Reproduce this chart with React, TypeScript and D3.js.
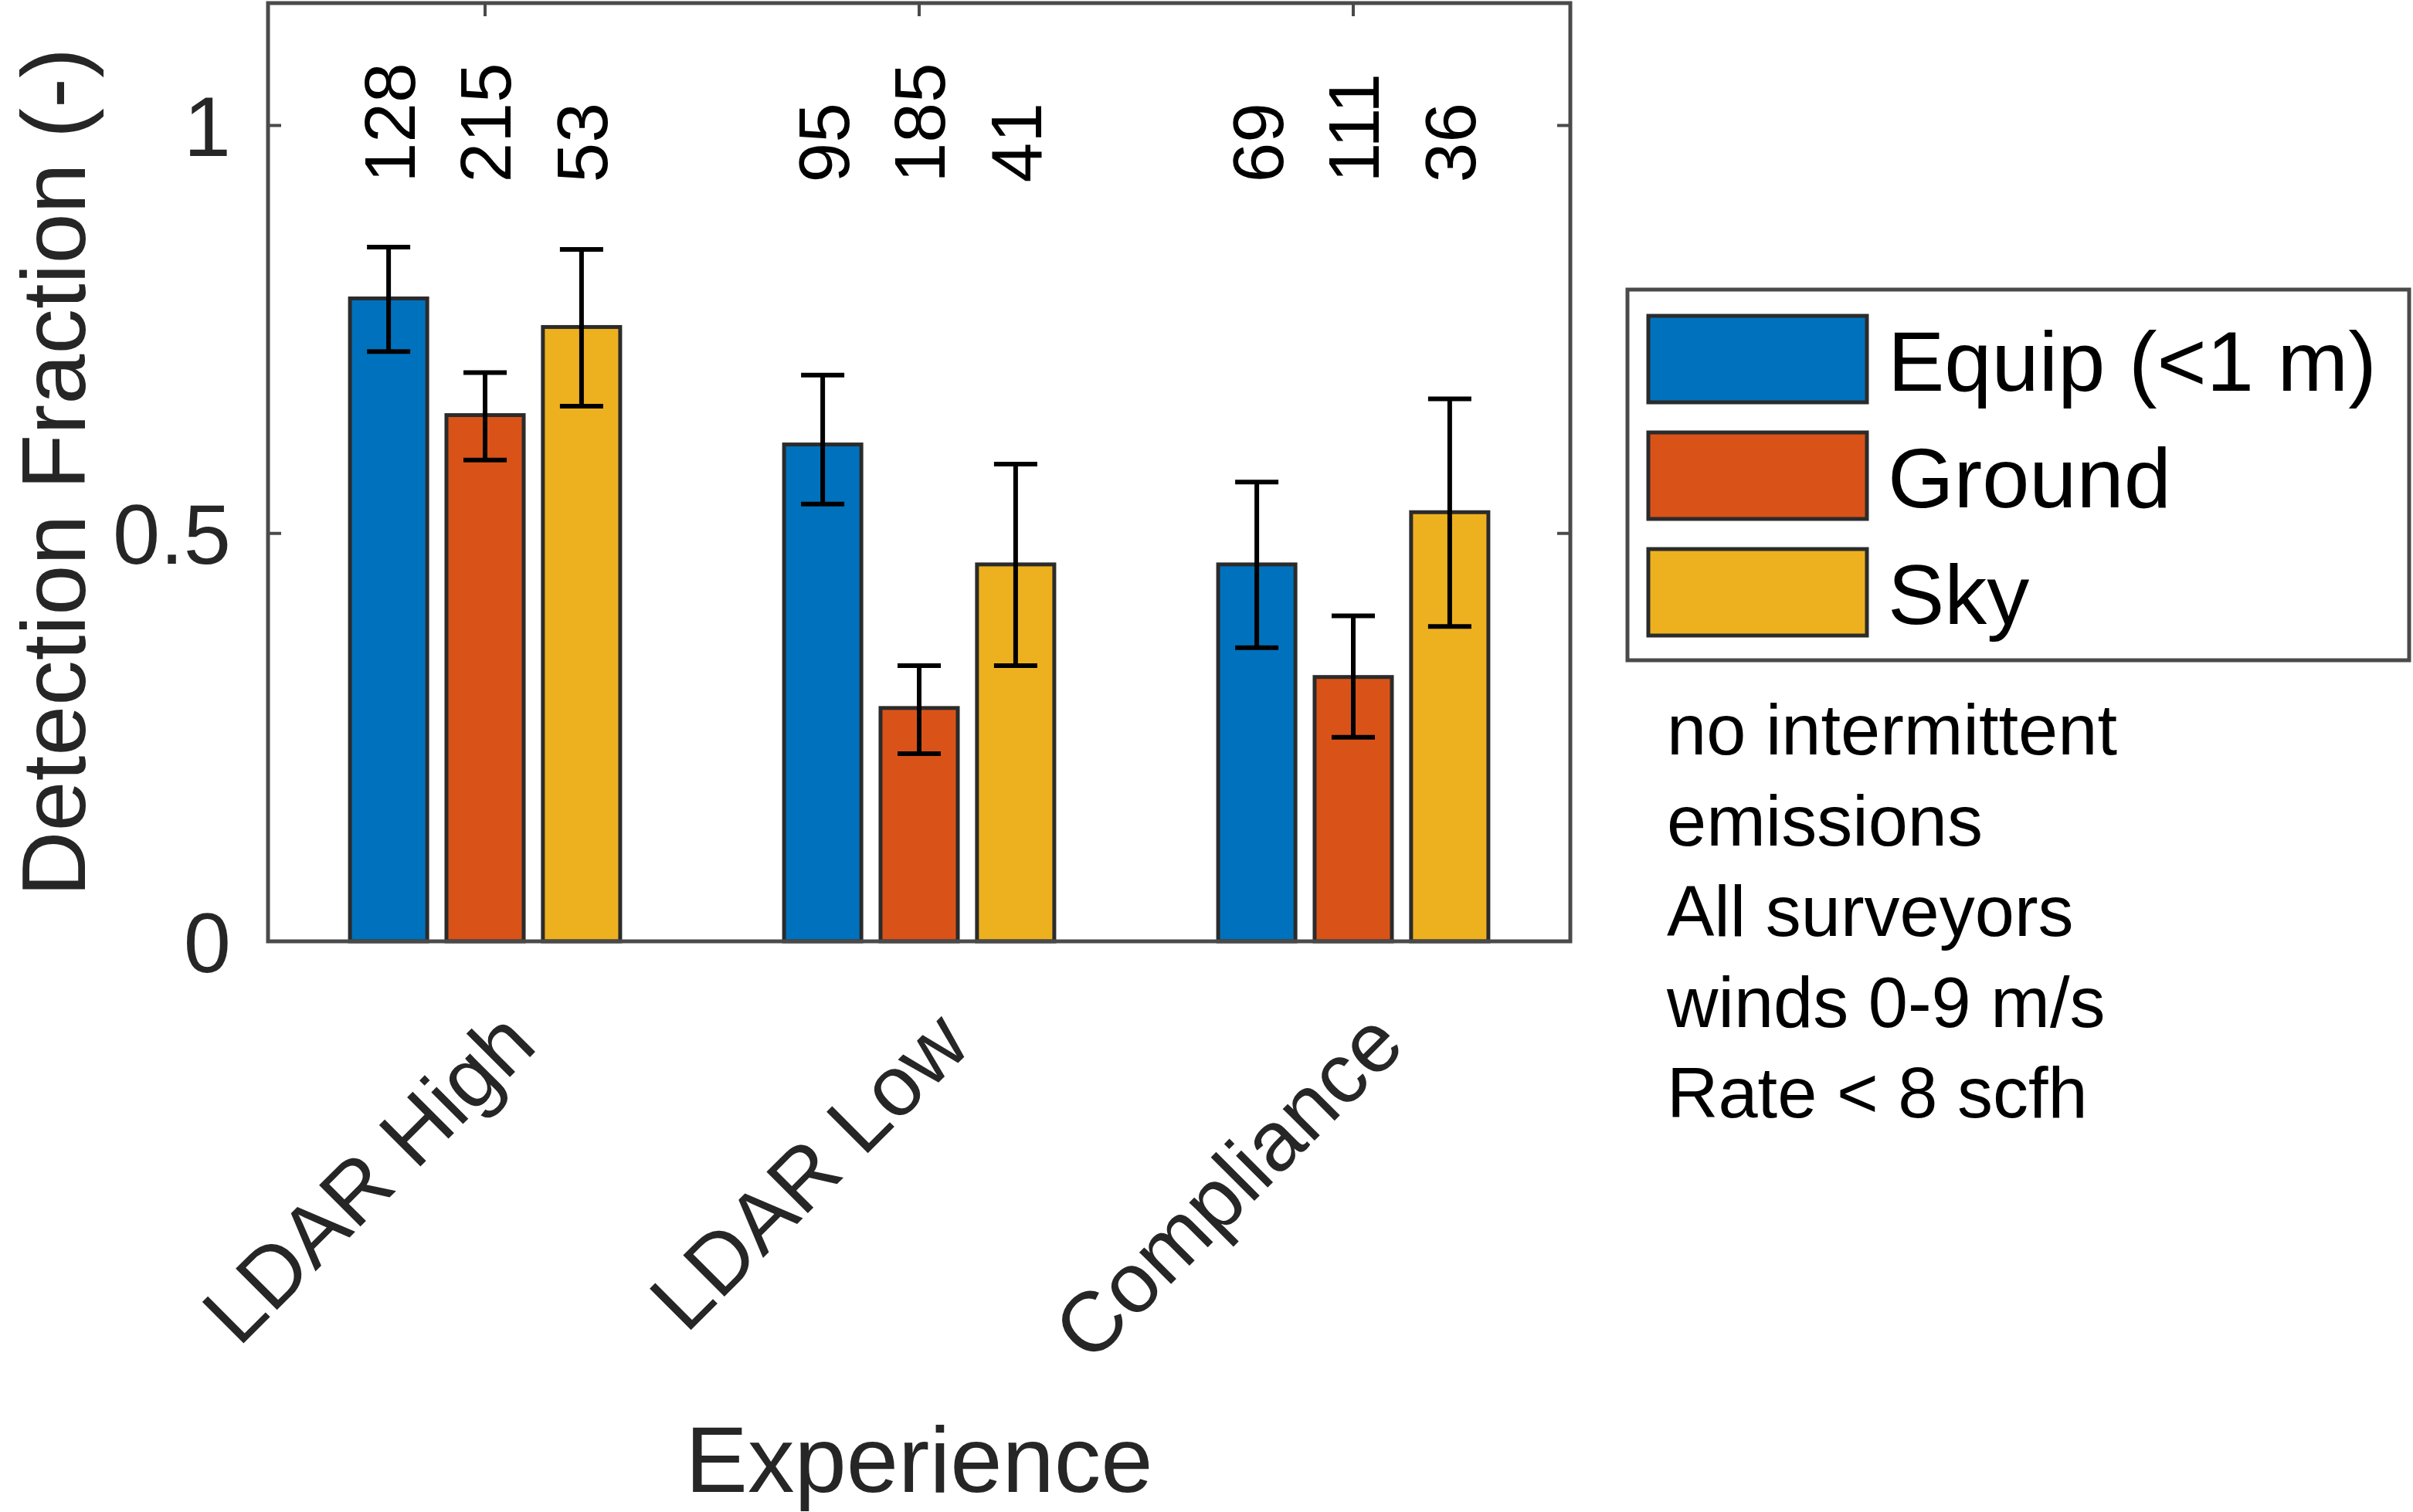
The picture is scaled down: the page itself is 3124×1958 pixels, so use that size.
import React from 'react';
import * as d3 from 'd3';

const categories = ['LDAR High', 'LDAR Low', 'Compliance'];
const seriesNames = ['Equip (<1 m)', 'Ground', 'Sky'];
const seriesColors = ['#0072BD', '#D95319', '#EDB120'];

const equipValues = [0.788, 0.609, 0.462];
const groundValues = [0.645, 0.286, 0.324];
const skyValues = [0.753, 0.462, 0.526];

const equipLower = [0.723, 0.536, 0.36];
const equipUpper = [0.851, 0.694, 0.563];
const groundLower = [0.59, 0.23, 0.25];
const groundUpper = [0.697, 0.338, 0.399];
const skyLower = [0.656, 0.338, 0.386];
const skyUpper = [0.848, 0.585, 0.665];

const equipCounts = [128, 95, 69];
const groundCounts = [215, 185, 111];
const skyCounts = [53, 41, 36];

const yTicks = [0, 0.5, 1];
const yTickLabels = ['0', '0.5', '1'];

const noteLines = [
  'no intermittent',
  'emissions',
  'All surveyors',
  'winds 0-9 m/s',
  'Rate < 8 scfh',
];

const FONT = '"Liberation Sans", Arial, sans-serif';

const W = 3124;
const H = 1958;
const plot = { left: 347, right: 2033, top: 4, bottom: 1219 };

export default function App() {
  const x = d3.scaleLinear().domain([0.5, 3.5]).range([plot.left, plot.right]);
  const y = d3.scaleLinear().domain([0, 1.15]).range([plot.bottom, plot.top]);

  // grouped bar offsets, like matlab's bar()
  const offset = d3.scalePoint<string>().domain(seriesNames).range([-2 / 9, 2 / 9]);
  const barW = x(0.5 + 0.178) - x(0.5);
  const capW = 56;
  const tickLen = 17;

  const values = [equipValues, groundValues, skyValues];
  const lowers = [equipLower, groundLower, skyLower];
  const uppers = [equipUpper, groundUpper, skyUpper];
  const counts = [equipCounts, groundCounts, skyCounts];

  const bars = [];
  categories.forEach((c, ci) => {
    seriesNames.forEach((s, si) => {
      bars.push({
        key: c + s,
        cx: x(ci + 1 + offset(s)),
        v: values[si][ci],
        lo: lowers[si][ci],
        hi: uppers[si][ci],
        n: counts[si][ci],
        color: seriesColors[si],
      });
    });
  });

  const axisColor = '#4a4a4a';
  const edgeColor = '#2b2b2b';

  return (
    <svg
      width={W}
      height={H}
      style={{ position: 'absolute', left: 0, top: 0, background: '#fff' }}
      fontFamily={FONT}
    >
      <rect x={0} y={0} width={W} height={H} fill="#fff" />

      {/* bars */}
      {bars.map((b) => (
        <rect
          key={'bar' + b.key}
          x={b.cx - barW / 2}
          y={y(b.v)}
          width={barW}
          height={y(0) - y(b.v)}
          fill={b.color}
          stroke={edgeColor}
          strokeWidth={5}
        />
      ))}

      {/* error bars */}
      {bars.map((b) => (
        <g key={'err' + b.key} stroke="#000" strokeWidth={6}>
          <line x1={b.cx} x2={b.cx} y1={y(b.lo)} y2={y(b.hi)} />
          <line x1={b.cx - capW / 2} x2={b.cx + capW / 2} y1={y(b.lo)} y2={y(b.lo)} />
          <line x1={b.cx - capW / 2} x2={b.cx + capW / 2} y1={y(b.hi)} y2={y(b.hi)} />
        </g>
      ))}

      {/* counts */}
      {bars.map((b) => (
        <text
          key={'n' + b.key}
          transform={`translate(${b.cx},${y(0.93)}) rotate(-90)`}
          dy="0.36em"
          fontSize={93}
          fill="#000"
        >
          {b.n}
        </text>
      ))}

      {/* axes box */}
      <rect
        x={plot.left}
        y={plot.top}
        width={plot.right - plot.left}
        height={plot.bottom - plot.top}
        fill="none"
        stroke={axisColor}
        strokeWidth={5}
      />
      {yTicks.map((t) => (
        <g key={'yt' + t} stroke={axisColor} strokeWidth={4}>
          <line x1={plot.left} x2={plot.left + tickLen} y1={y(t)} y2={y(t)} />
          <line x1={plot.right} x2={plot.right - tickLen} y1={y(t)} y2={y(t)} />
        </g>
      ))}
      {categories.map((c, i) => (
        <g key={'xt' + c} stroke={axisColor} strokeWidth={4}>
          <line x1={x(i + 1)} x2={x(i + 1)} y1={plot.top} y2={plot.top + tickLen} />
        </g>
      ))}

      {/* y tick labels */}
      {yTicks.map((t, i) => (
        <text
          key={'ytl' + t}
          x={plot.left - 48}
          y={y(t)}
          dy="0.36em"
          textAnchor="end"
          fontSize={110}
          fill="#262626"
        >
          {yTickLabels[i]}
        </text>
      ))}

      {/* x tick labels, rotated */}
      {categories.map((c, i) => (
        <text
          key={'xtl' + c}
          transform={`translate(${x(i + 1) + 70},${plot.bottom + 138}) rotate(-45)`}
          textAnchor="end"
          fontSize={110}
          fill="#262626"
        >
          {c}
        </text>
      ))}

      {/* axis labels */}
      <text
        x={(plot.left + plot.right) / 2}
        y={1932}
        textAnchor="middle"
        fontSize={121}
        fill="#262626"
      >
        Experience
      </text>
      <text
        transform={`translate(110,${(plot.top + plot.bottom) / 2}) rotate(-90)`}
        textAnchor="middle"
        fontSize={117}
        fill="#262626"
      >
        Detection Fraction (-)
      </text>

      {/* legend */}
      <rect x={2107} y={375} width={1012} height={480} fill="#fff" stroke={axisColor} strokeWidth={5} />
      {seriesNames.map((s, i) => {
        const cy = 465 + i * 151;
        return (
          <g key={'lg' + s}>
            <rect x={2134} y={cy - 56} width={283} height={112} fill={seriesColors[i]} stroke={edgeColor} strokeWidth={5} />
            <text x={2444} y={cy} dy="0.37em" fontSize={110} fill="#000">
              {s}
            </text>
          </g>
        );
      })}

      {/* notes */}
      {noteLines.map((l, i) => (
        <text key={'note' + i} x={2158} y={977 + i * 117.5} fontSize={92} fill="#000">
          {l}
        </text>
      ))}
    </svg>
  );
}
